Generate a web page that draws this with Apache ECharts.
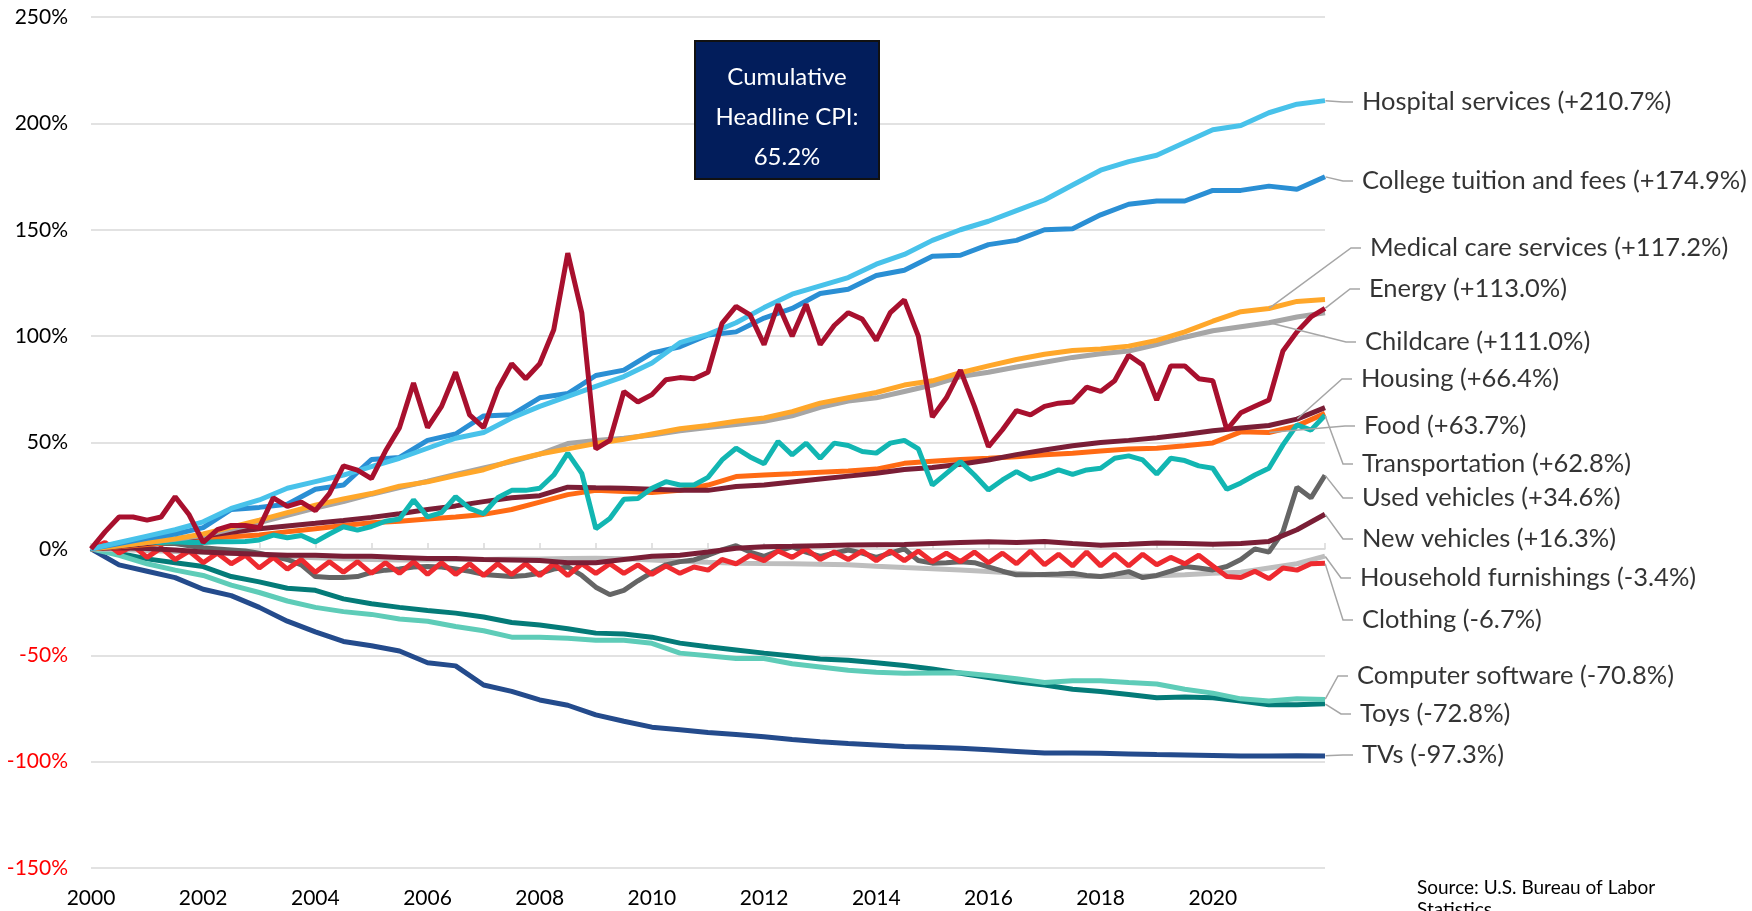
<!DOCTYPE html>
<html>
<head>
<meta charset="utf-8">
<title>CPI components since 2000</title>
<script src="https://cdn.jsdelivr.net/npm/echarts@6/dist/echarts.min.js"></script>
<style>
  html, body { margin: 0; padding: 0; background: #fff; }
  #cpi { width: 1752px; height: 911px; }
</style>
</head>
<body>
<div id="cpi"></div>
<script>
// cumulative % change since Jan 2000
var halfYears = [];
for (var i = 0; i <= 44; i++) halfYears.push(2000 + i * 0.5);
var quarters = [];
for (var j = 0; j <= 88; j++) quarters.push(2000 + j * 0.25);

var xLabelYears = [2000, 2002, 2004, 2006, 2008, 2010, 2012, 2014, 2016, 2018, 2020];

// half-yearly series
var hospital = [0, 3, 6, 9, 12.7, 19, 23, 28.5, 31.6, 34.7, 38.7, 42.6, 47.3, 52, 54.7, 61.5, 67, 71.7, 76.4, 81,
  87.4, 96.9, 100.8, 106.3, 113.4, 119.7, 123.6, 127.5, 133.8, 138.4, 145, 150, 154, 159, 164, 171, 178, 182, 185, 191,
  197, 199, 205, 209, 210.7];
var college = [0, 2.5, 5, 7, 10, 18.5, 19.5, 21, 28, 30, 42, 43, 51, 54, 62.5, 63, 71, 73, 81.5, 84,
  92, 95, 100.5, 102, 108.5, 113, 120, 122, 128.5, 131, 137.5, 138, 143, 145, 150, 150.5, 157, 162, 163.5, 163.5,
  168.5, 168.5, 170.5, 169, 174.9];
var medical = [0, 1.5, 3, 4.8, 7, 10.2, 13.5, 17, 20.5, 23.5, 26, 29.5, 31.5, 34.5, 37.2, 41.5, 44.6, 47, 49.5, 51.5,
  54, 56.5, 58, 60, 61.5, 64.5, 68.5, 71, 73.5, 77, 79, 82.8, 86, 89, 91.5, 93.2, 94, 95.3, 98, 102,
  107, 111.5, 113, 116.3, 117.2];
var childcare = [0, 1.5, 3, 4.5, 6.3, 9.3, 12.3, 15.8, 19.2, 22.2, 25.7, 28.8, 31.8, 35, 38, 41, 44.5, 49.5, 51, 52,
  53.5, 55.5, 57, 58.5, 60, 62.5, 66.5, 69.5, 71, 74, 77, 81, 83, 85.5, 87.7, 90, 91.7, 93, 96, 99.5,
  102.5, 104.4, 106.3, 109, 111];
var housing = [0, 1.2, 2.5, 4.2, 6, 7.8, 9.5, 10.8, 12, 13.3, 14.8, 16.5, 18.5, 20.2, 22.2, 24, 25, 29, 28.7, 28.5,
  28, 27.5, 27.5, 29.3, 30, 31.4, 32.8, 34.2, 35.5, 37.3, 38.3, 39.8, 41.8, 44.3, 46.5, 48.5, 50, 51, 52.2, 53.8,
  55.5, 56.8, 58, 61, 66.4];
var food = [0, 1, 2, 3.5, 4.8, 5.7, 6.5, 8, 9.5, 11, 12.3, 13, 14, 15, 16.2, 18.5, 22, 25.5, 27.5, 27,
  26.5, 27.5, 30, 34, 34.7, 35.3, 36, 36.6, 37.5, 40.2, 41.2, 42, 42.6, 43.3, 44.2, 45, 46, 47, 47.3, 48.5,
  49.8, 55, 54.7, 57.8, 63.7];
var newVehicles = [0, 0.5, 0.2, -0.5, -1.5, -2, -2.5, -3, -3, -3.5, -3.5, -4, -4.5, -4.5, -5, -5.2, -5.5, -6.5, -6.5, -5,
  -3.5, -3, -1.5, 0.3, 1, 1.2, 1.5, 1.8, 1.9, 2, 2.5, 3, 3.3, 3, 3.5, 2.5, 1.7, 2.2, 2.8, 2.5,
  2.2, 2.5, 3.5, 9, 16.3];
var furnishings = [0, -0.3, -0.8, -1.2, -1.6, -2, -2.8, -3.5, -4.2, -4.6, -5, -5.2, -5.2, -5, -5, -4.8, -4.8, -4.5, -4.4, -4.6,
  -5.2, -5.8, -6.3, -6.7, -6.9, -7, -7.2, -7.5, -8.2, -8.8, -9.3, -9.9, -10.6, -11.5, -12.3, -12.8, -13, -13, -12.6, -12.2,
  -11.5, -11, -9, -7, -3.4];
var software = [0, -3, -7, -10, -12.5, -17, -20.5, -24.5, -27.5, -29.5, -30.8, -33, -34, -36.5, -38.5, -41.5, -41.5, -42, -43, -43,
  -44.4, -49, -50.2, -51.5, -51.5, -54, -55.5, -57, -58, -58.5, -58.3, -58.2, -59.5, -61, -62.8, -62, -62, -62.8, -63.5, -66,
  -67.8, -70.5, -71.5, -70.5, -70.8];
var toys = [0, -2, -4.7, -6.5, -8.3, -13, -15.5, -18.5, -19.5, -23.5, -25.8, -27.5, -29, -30.2, -32, -34.6, -35.8, -37.5, -39.6, -40,
  -41.5, -44.3, -46, -47.5, -49, -50.4, -51.8, -52.4, -53.5, -54.8, -56.5, -58.5, -60.5, -62.5, -64, -66, -67, -68.5, -70, -69.6,
  -70, -71.5, -73.3, -73.3, -72.8];
var tvs = [0, -7.5, -10.5, -13.5, -19, -22, -27.5, -34, -39, -43.5, -45.5, -48, -53.5, -55, -64, -67, -71, -73.5, -78, -81,
  -83.8, -85, -86.3, -87.3, -88.3, -89.6, -90.7, -91.5, -92.2, -92.9, -93.3, -93.7, -94.4, -95.2, -96, -96, -96.1, -96.4, -96.7, -96.9,
  -97.1, -97.3, -97.3, -97.2, -97.3];

// quarterly series (the jumpy ones)
var energy = [0, 8, 15, 15, 13.5, 15, 24.5, 16, 3, 9, 11, 11, 10, 24, 20, 22, 18, 26, 39, 37,
  33, 46, 57, 78, 57, 67, 83, 63, 57, 75, 87, 80, 87, 103, 139, 111, 47, 51, 74, 69,
  72.5, 79.5, 80.5, 80, 83, 106, 114, 110, 96, 115, 100, 115, 96, 105, 111, 108, 98, 111, 117, 100,
  62, 71, 84, 67, 48, 56, 65, 63, 67, 68.5, 69, 76, 74, 79, 91, 86.5, 70, 86, 86, 80,
  79, 56, 64, 67, 70, 93, 102, 109, 113];
var transportation = [0, 1.5, 2.5, 3, 3.3, 3, 3.3, 3, 3, 3.3, 3.3, 3.5, 4.2, 6.5, 5.2, 6.3, 3.3, 7, 10.4, 8.8,
  10.5, 13, 14, 23, 15, 17, 24.5, 19, 16.5, 24, 27.5, 27.5, 28.5, 34.7, 45, 35.5, 9.5, 14.3, 23.3, 23.7,
  28.5, 31.6, 30, 30, 33.6, 41.8, 47.3, 43.2, 40, 50.5, 44.2, 49.7, 42.6, 49.7, 48.6, 45.8, 45, 49.7, 51, 47,
  30, 35.5, 41, 34.7, 27.7, 32.4, 36.3, 32.7, 34.7, 37.1, 35, 37.1, 37.9, 42.6, 43.7, 41.8, 35.2, 42.6, 41.5, 39,
  37.9, 28, 31, 34.7, 37.9, 48.9, 58.3, 55.8, 62.8];
var usedVehicles = [0, 0.8, 1.5, 2, 2.3, 2.5, 2.5, 1.5, 0.5, 0, -0.5, -1, -2, -3.5, -5, -7.5, -13, -13.5, -13.5, -13,
  -11, -10, -9.5, -8.5, -8.3, -8.5, -9.5, -10.5, -12, -12.5, -13, -12.5, -11.5, -9.5, -8.5, -12.5, -18, -21.5, -19.5, -15,
  -11, -7.5, -6, -5.2, -3, -0.5, 1.5, -1.5, -3.5, -1, 1, -1.5, -3.5, -2, -0.5, -2, -4, -2, 0, -5.5,
  -6.7, -6.5, -6, -6.5, -8.5, -10.5, -12.2, -12.2, -12, -11.8, -11.5, -12.5, -13, -12, -10.7, -13.5, -12.5, -10.5, -8.3, -9,
  -9.9, -8.3, -5, 0, -1.5, 8, 29, 24, 34.6];
var clothing = [0, 3, -2, 1.5, -4, 0.5, -5, -1, -6.5, -2, -7, -3, -9, -4, -9.5, -5, -11, -6, -11, -6,
  -11.5, -6.5, -11.5, -6, -12, -6.5, -12, -7, -12.5, -7, -12, -7, -12.5, -7, -12.5, -7, -11.5, -7, -11.5, -7.5,
  -12, -8, -11.5, -8.5, -10, -5, -7, -3, -5.5, -1, -4, 0, -5, -1.5, -5, -1, -5.5, -1, -5.5, -1,
  -6, -2, -6, -1.5, -6.5, -2, -7, -1, -7.5, -2.5, -8, -1.5, -8, -2.5, -8, -2.5, -7.5, -4, -7, -3,
  -8, -13, -13.5, -10.5, -14, -9, -10, -7, -6.7];

// bottom-most first, energy on top
var lines = [
  { key: 'tvs', x: halfYears, y: tvs, color: '#244B8C' },
  { key: 'toys', x: halfYears, y: toys, color: '#047B78' },
  { key: 'software', x: halfYears, y: software, color: '#5ECCB8' },
  { key: 'furnishings', x: halfYears, y: furnishings, color: '#BEBEBE' },
  { key: 'usedVehicles', x: quarters, y: usedVehicles, color: '#656565' },
  { key: 'clothing', x: quarters, y: clothing, color: '#EE2A2F' },
  { key: 'newVehicles', x: halfYears, y: newVehicles, color: '#7A1E36' },
  { key: 'food', x: halfYears, y: food, color: '#FF6A14' },
  { key: 'housing', x: halfYears, y: housing, color: '#7A1E36' },
  { key: 'transportation', x: quarters, y: transportation, color: '#12B6B2' },
  { key: 'childcare', x: halfYears, y: childcare, color: '#A6A6A6' },
  { key: 'medical', x: halfYears, y: medical, color: '#FFA72A' },
  { key: 'college', x: halfYears, y: college, color: '#2A8FD4' },
  { key: 'hospital', x: halfYears, y: hospital, color: '#48C2EA' },
  { key: 'energy', x: quarters, y: energy, color: '#A8102E' }
];

// text, series, year the leader line hooks onto, text left, text middle
var labelRows = [
  ['Hospital services (+210.7%)', 'hospital', 2022, 1362, 102],
  ['College tuition and fees (+174.9%)', 'college', 2022, 1362, 181],
  ['Medical care services (+117.2%)', 'medical', 2021, 1370, 248],
  ['Energy (+113.0%)', 'energy', 2022, 1369, 289],
  ['Childcare (+111.0%)', 'childcare', 2021, 1365, 342],
  ['Housing (+66.4%)', 'housing', 2021.5, 1361, 379],
  ['Food (+63.7%)', 'food', 2021, 1364, 426],
  ['Transportation (+62.8%)', 'transportation', 2022, 1362, 464],
  ['Used vehicles (+34.6%)', 'usedVehicles', 2022, 1362, 498],
  ['New vehicles (+16.3%)', 'newVehicles', 2022, 1362, 539],
  ['Household furnishings (-3.4%)', 'furnishings', 2022, 1360, 578],
  ['Clothing (-6.7%)', 'clothing', 2022, 1362, 620],
  ['Computer software (-70.8%)', 'software', 2022, 1357, 676],
  ['Toys (-72.8%)', 'toys', 2022, 1360, 714],
  ['TVs (-97.3%)', 'tvs', 2022, 1362, 755]
];

var byKey = {};
lines.forEach(function (l) { byKey[l.key] = l; });

var series = lines.map(function (l) {
  return {
    name: l.key,
    type: 'line',
    xAxisIndex: 0,
    showSymbol: false,
    symbol: 'none',
    silent: true,
    data: l.y.map(function (v, k) { return [l.x[k], v]; }),
    lineStyle: { width: 5, color: l.color },
    itemStyle: { color: l.color },
    emphasis: { disabled: true }
  };
});

var labelPad = 9;
series.push({
  type: 'scatter',
  xAxisIndex: 0,
  symbolSize: 1,
  silent: true,
  z: 5,
  itemStyle: { color: 'rgba(0,0,0,0)' },
  data: labelRows.map(function (r) {
    var l = byKey[r[1]];
    var k = l.x.indexOf(r[2]);
    return { name: r[0], value: [r[2], l.y[k]] };
  }),
  label: {
    show: true,
    formatter: '{b}',
    fontFamily: 'Lato',
    fontSize: 25.5,
    color: '#000',
    backgroundColor: 'rgba(255,255,255,0.01)',
    padding: [0, 0, 0, labelPad]
  },
  labelLine: {
    show: true,
    length2: 10,
    lineStyle: { color: '#A6A6A6', width: 1.5 }
  },
  labelLayout: function (p) {
    var r = labelRows[p.dataIndex];
    return { x: r[3] - labelPad, y: r[4], align: 'left', verticalAlign: 'middle' };
  }
});

var myChart = echarts.init(document.getElementById('cpi'));
var option = {
  animation: false,
  backgroundColor: '#fff',
  grid: { left: 91, right: 427, top: 17, bottom: 43 },
  xAxis: [{
    type: 'value',
    min: 2000,
    max: 2022,
    interval: 1,
    axisLine: { show: false, onZero: false },
    axisTick: { show: false },
    splitLine: { show: false },
    axisLabel: {
      fontFamily: 'Lato',
      fontSize: 21,
      color: '#000',
      margin: 20,
      formatter: function (v) { return xLabelYears.indexOf(v) >= 0 ? String(v) : ''; }
    }
  }, {
    type: 'value',
    min: 2000,
    max: 2022,
    interval: 1,
    position: 'bottom',
    axisLine: { show: true, onZero: true, onZeroAxisIndex: 0, lineStyle: { color: '#D9D9D9', width: 1.5 } },
    axisTick: { show: true, inside: true, length: 6, lineStyle: { color: '#D9D9D9', width: 1.5 } },
    axisLabel: { show: false },
    splitLine: { show: false }
  }],
  yAxis: {
    type: 'value',
    min: -150,
    max: 250,
    interval: 50,
    axisLine: { show: false },
    axisTick: { show: false },
    splitLine: { lineStyle: { color: '#D9D9D9', width: 1.5 } },
    axisLabel: {
      fontFamily: 'Lato',
      fontSize: 21,
      margin: 23,
      formatter: '{value}%',
      color: function (v) { return Number(v) < 0 ? '#FF0000' : '#000'; }
    }
  },
  graphic: [{
    type: 'group',
    x: 695,
    y: 41,
    z: 100,
    children: [
      { type: 'rect', z: 100, shape: { x: 0, y: 0, width: 184, height: 138 }, style: { fill: '#021D5B', stroke: '#111', lineWidth: 2 } },
      { type: 'text', z: 101, x: 92, y: 36, style: { text: 'Cumulative', fill: '#fff', fontFamily: 'Lato', fontSize: 24, align: 'center', verticalAlign: 'middle' } },
      { type: 'text', z: 101, x: 92, y: 76, style: { text: 'Headline CPI:', fill: '#fff', fontFamily: 'Lato', fontSize: 24, align: 'center', verticalAlign: 'middle' } },
      { type: 'text', z: 101, x: 92, y: 116, style: { text: '65.2%', fill: '#fff', fontFamily: 'Lato', fontSize: 24, align: 'center', verticalAlign: 'middle' } }
    ]
  }, {
    type: 'text',
    x: 1417,
    y: 877,
    style: { text: 'Source: U.S. Bureau of Labor\nStatistics', fill: '#000', fontFamily: 'Lato', fontSize: 19, lineHeight: 22, verticalAlign: 'top' }
  }],
  series: series
};

myChart.setOption(option);
</script>
</body>
</html>
